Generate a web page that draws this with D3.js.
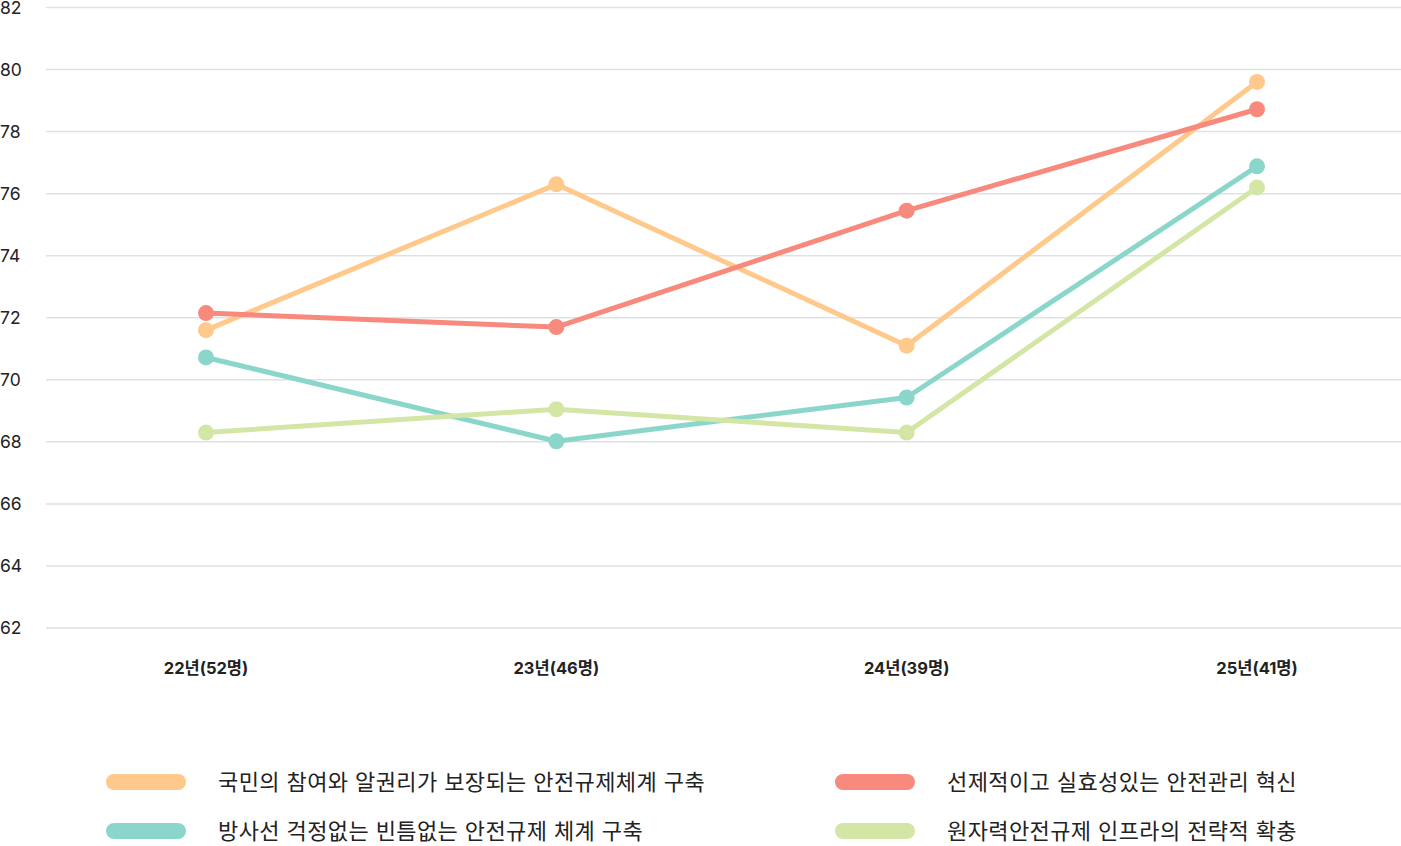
<!DOCTYPE html>
<html lang="ko">
<head>
<meta charset="utf-8">
<script src="https://cdn.jsdelivr.net/npm/d3@7.9.0/dist/d3.min.js"></script>
<style>
  html, body { margin: 0; padding: 0; background: #fff; }
  body { font-family: Inter, "Noto Sans CJK KR", "Noto Sans", sans-serif; }
  svg text { fill: #222; }
</style>
</head>
<body>
<svg id="chart" width="1401" height="846"></svg>
<script>
// categories on the x axis
const years = ['22년(52명)', '23년(46명)', '24년(39명)', '25년(41명)'];

// y tick labels
const yTicks = [62, 64, 66, 68, 70, 72, 74, 76, 78, 80, 82];

// series names and values
const seriesNames = [
  '국민의 참여와 알권리가 보장되는 안전규제체계 구축',
  '선제적이고 실효성있는 안전관리 혁신',
  '방사선 걱정없는 빈틈없는 안전규제 체계 구축',
  '원자력안전규제 인프라의 전략적 확충'
];
const participation = [71.6, 76.3, 71.1, 79.6];
const proactive = [72.15, 71.7, 75.45, 78.72];
const radiation = [70.72, 68.02, 69.43, 76.88];
const infra = [68.3, 69.05, 68.3, 76.2];

const seriesColors = ['#FFC98B', '#F88A7D', '#8AD6CA', '#D3E6A6'];
const seriesValues = [participation, proactive, radiation, infra];

const svg = d3.select('#chart');

// scales
const x = d3.scalePoint().domain(years).range([206, 1257]);
const y = d3.scaleLinear().domain([62, 82]).range([628, 7.5]);

// gridlines + y labels
const yAxis = svg.append('g').attr('class', 'y-axis');
yAxis.selectAll('line')
  .data(yTicks)
  .join('line')
  .attr('x1', 46)
  .attr('x2', 1401)
  .attr('y1', d => y(d))
  .attr('y2', d => y(d))
  .attr('stroke', '#DFE1E5')
  .attr('stroke-width', 1.5);
yAxis.selectAll('text')
  .data(yTicks)
  .join('text')
  .attr('x', 0)
  .attr('y', d => y(d))
  .attr('dy', '0.35em')
  .attr('font-size', 17.5)
  .text(d => d);

// x labels
svg.append('g')
  .selectAll('text')
  .data(years)
  .join('text')
  .attr('x', d => x(d))
  .attr('y', 668)
  .attr('dy', '0.35em')
  .attr('text-anchor', 'middle')
  .attr('font-size', 16.5)
  .attr('font-weight', 700)
  .text(d => d);

// lines and points
const line = d3.line()
  .x((d, i) => x(years[i]))
  .y(d => y(d));

seriesValues.forEach((vals, s) => {
  const g = svg.append('g');
  g.append('path')
    .attr('d', line(vals))
    .attr('fill', 'none')
    .attr('stroke', seriesColors[s])
    .attr('stroke-width', 5)
    .attr('stroke-linejoin', 'round');
  g.selectAll('circle')
    .data(vals)
    .join('circle')
    .attr('cx', (d, i) => x(years[i]))
    .attr('cy', d => y(d))
    .attr('r', 8)
    .attr('fill', seriesColors[s]);
});

// legend (two columns)
const legendPos = [
  { x: 106, y: 782 },
  { x: 835, y: 782 },
  { x: 106, y: 831 },
  { x: 835, y: 831 }
];
const legend = svg.append('g');
seriesNames.forEach((name, s) => {
  const p = legendPos[s];
  legend.append('rect')
    .attr('x', p.x)
    .attr('y', p.y - 8)
    .attr('width', 80)
    .attr('height', 16)
    .attr('rx', 8)
    .attr('fill', seriesColors[s]);
  legend.append('text')
    .attr('x', p.x + 112)
    .attr('y', p.y)
    .attr('dy', '0.35em')
    .attr('font-size', 22)
    .attr('letter-spacing', 0.4)
    .text(name);
});
</script>
</body>
</html>
